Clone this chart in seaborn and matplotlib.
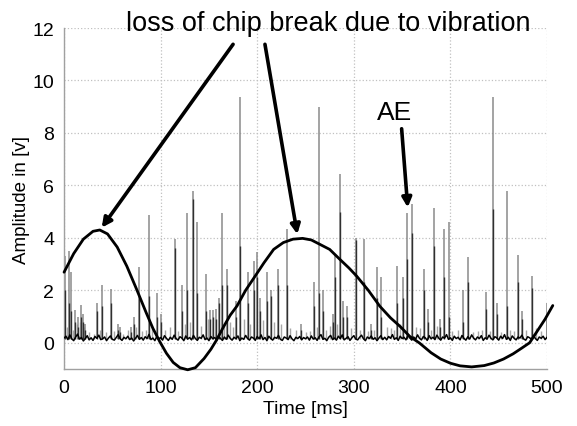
import matplotlib
matplotlib.use("Agg")
import matplotlib.pyplot as plt
import seaborn as sns
import pandas as pd

# ---- data ----
sine_t = [0, 10, 20, 30, 37, 45, 55, 65, 75, 85, 92, 99, 106, 113, 120, 128, 136, 145,
          152, 158, 165, 172, 179, 188, 198, 207, 217, 227, 237, 247, 256, 265, 275, 285,
          295, 303, 315, 327, 338, 348, 358, 368, 380, 390, 400, 410, 422, 435, 445, 455,
          465, 474, 482, 490, 498, 506]
sine_v = [2.69, 3.4, 3.95, 4.25, 4.30, 4.15, 3.65, 2.92, 2.05, 1.15, 0.55, 0.05, -0.4,
          -0.75, -0.95, -1.03, -0.95, -0.6, -0.25, 0.11, 0.6, 1.05, 1.4, 2.0, 2.55, 3.05,
          3.56, 3.82, 3.95, 3.98, 3.92, 3.75, 3.56, 3.2, 2.85, 2.54, 2.0, 1.39, 0.95, 0.62,
          0.24, -0.01, -0.38, -0.62, -0.78, -0.88, -0.92, -0.87, -0.77, -0.62, -0.42, -0.2,
          0.0, 0.45, 0.9, 1.42]

spike_t = [1, 5.5, 7, 11.4, 14.5, 17.3, 19.5, 22, 34.5, 39, 48.7, 56, 58, 69, 72.5, 77.6,
           88, 96, 100, 115, 122.5, 127.6, 133, 138, 147, 151, 154, 157, 160.5, 163.6,
           168.7, 178, 182, 190.8, 196.7, 200, 203, 210.5, 214, 221.5, 230.5, 245, 258.8,
           264, 268, 278, 280.5, 285.7, 289, 293, 302, 310.6, 318, 324.4, 328.6, 345, 351,
           355.4, 360.2, 372.7, 377, 383, 389, 393.4, 398.6, 413.4, 418, 437, 444.4, 448,
           458.3, 469.6, 474, 484, 499.7]
spike_h = [3.3, 3.5, 2.7, 1.26, 1.0, 1.45, 1.1, 0.7, 1.5, 2.2, 2.05, 0.7, 0.6, 0.6, 1.0, 2.9,
           4.87, 1.9, 1.1, 3.95, 2.2, 4.94, 5.8, 4.6, 2.64, 1.25, 1.26, 1.3, 1.7, 4.94,
           2.83, 1.6, 9.38, 2.7, 3.1, 3.45, 1.7, 2.7, 2.0, 2.8, 4.33, 0.7, 2.3,
           9.0, 2.0, 1.1, 3.33, 6.43, 1.6, 1.4, 3.98, 3.95, 0.7, 2.87, 2.5, 2.92, 2.5,
           4.94, 5.29, 2.8, 1.3, 5.13, 0.9, 4.33, 4.6, 2.0, 3.27, 1.95, 9.38, 1.5,
           5.8, 3.33, 1.2, 2.53, 1.5]
spike_dark = [2.0, 1.5, 1.2, 0.8, 0.6, 1.0, 0.8, 0.5, 1.2, 1.4, 1.5, 0.5, 0.4, 0.4, 0.7, 1.7,
              1.8, 1.0, 0.8, 3.6, 1.2, 2.0, 5.5, 1.9, 1.2, 0.9, 1.0, 0.9, 1.5, 2.2,
              2.2, 1.0, 3.7, 1.5, 2.0, 2.5, 1.2, 1.6, 1.8, 2.2, 2.2, 0.5, 1.4,
              1.9, 1.2, 0.8, 2.5, 5.0, 1.0, 1.0, 3.9, 2.3, 0.5, 1.7, 1.0, 1.5, 1.7,
              3.2, 4.2, 2.0, 0.8, 3.7, 0.6, 2.5, 1.0, 0.8, 2.3, 1.3, 5.1, 1.1,
              1.4, 2.3, 0.9, 2.1, 1.0]

# small grey activity just above the baseline
fuzz_t = [3, 9, 13, 16, 21, 26, 31, 37, 43, 52, 61, 66, 75, 81, 85, 91, 105, 110, 118,
          125, 130, 142, 149, 166, 172, 175, 186, 193, 206, 217, 225, 234, 240, 250, 255,
          262, 271, 275, 283, 297, 306, 315, 321, 334, 338, 342, 348, 364, 369, 380, 386,
          402, 408, 423, 429, 433, 441, 452, 462, 466, 478, 489, 494]
fuzz_h = [0.6, 0.5, 0.7, 0.8, 0.6, 0.4, 0.35, 0.5, 0.4, 0.45, 0.35, 0.5, 0.6, 0.45, 0.5,
          0.55, 0.5, 0.6, 0.45, 0.7, 0.8, 0.65, 0.9, 0.7, 0.8, 0.6, 0.9, 0.7, 0.85, 0.8,
          0.7, 0.55, 0.5, 0.4, 0.45, 0.6, 0.5, 0.65, 0.7, 0.55, 0.5, 0.45, 0.5, 0.6, 0.55,
          0.5, 0.7, 0.6, 0.55, 0.5, 0.65, 0.45, 0.5, 0.4, 0.45, 0.5, 0.45, 0.4, 0.5, 0.45,
          0.5, 0.55, 0.45]

base_t = list(range(0, 501, 2))
base_v = [0.18, 0.25, 0.12, 0.30, 0.15, 0.08, 0.22, 0.33, 0.14, 0.20, 0.07, 0.16, 0.27,
          0.11, 0.19, 0.09, 0.24, 0.17, 0.29, 0.12, 0.15, 0.22, 0.08, 0.18, 0.26, 0.13,
          0.10, 0.20, 0.31, 0.16, 0.09, 0.21, 0.15, 0.25, 0.12, 0.18, 0.07, 0.17, 0.28,
          0.13, 0.20, 0.10, 0.23, 0.16, 0.32, 0.12, 0.18, 0.08, 0.24, 0.15, 0.20, 0.10,
          0.27, 0.17, 0.09, 0.21, 0.13, 0.29, 0.16, 0.10, 0.23, 0.18, 0.08, 0.26, 0.14,
          0.20, 0.11, 0.28, 0.16, 0.09, 0.21, 0.17, 0.30, 0.12, 0.18, 0.08, 0.24, 0.15,
          0.20, 0.10, 0.27, 0.16, 0.09, 0.22, 0.13, 0.29, 0.17, 0.10, 0.21, 0.15, 0.26,
          0.08, 0.18, 0.13, 0.28, 0.16, 0.10, 0.22, 0.18, 0.09, 0.24, 0.15, 0.30, 0.12,
          0.20, 0.08, 0.25, 0.16, 0.10, 0.21, 0.17, 0.28, 0.13, 0.09, 0.22, 0.18, 0.12,
          0.27, 0.15, 0.08, 0.21, 0.16, 0.24, 0.11, 0.20, 0.15,
          0.22, 0.10, 0.26, 0.14, 0.19, 0.09, 0.23, 0.31, 0.13, 0.17, 0.08, 0.21, 0.28,
          0.12, 0.18, 0.10, 0.25, 0.16, 0.30, 0.11, 0.17, 0.23, 0.09, 0.19, 0.27, 0.14,
          0.11, 0.21, 0.29, 0.15, 0.08, 0.22, 0.16, 0.26, 0.13, 0.19, 0.08, 0.18, 0.27,
          0.12, 0.21, 0.11, 0.24, 0.17, 0.31, 0.13, 0.19, 0.09, 0.25, 0.16, 0.21, 0.11,
          0.28, 0.18, 0.10, 0.22, 0.14, 0.30, 0.17, 0.11, 0.24, 0.19, 0.09, 0.27, 0.15,
          0.21, 0.12, 0.29, 0.17, 0.10, 0.22, 0.18, 0.31, 0.13, 0.19, 0.09, 0.25, 0.16,
          0.21, 0.11, 0.28, 0.17, 0.10, 0.23, 0.14, 0.30, 0.18, 0.11, 0.22, 0.16, 0.27,
          0.09, 0.19, 0.14, 0.29, 0.17, 0.11, 0.23, 0.19, 0.10, 0.25, 0.16, 0.31, 0.13,
          0.21, 0.09, 0.26, 0.17, 0.11, 0.22, 0.18, 0.29, 0.14, 0.10, 0.23, 0.19, 0.13,
          0.28, 0.16, 0.09, 0.22, 0.17, 0.25, 0.12, 0.21, 0.16]
base_v = base_v[:len(base_t)]

xticks = [0, 100, 200, 300, 400, 500]
yticks = [0, 2, 4, 6, 8, 10, 12]

# ---- plot ----
sns.set_theme(style="white")
plt.rcParams["font.family"] = ["Liberation Sans", "DejaVu Sans"]
plt.rcParams["text.color"] = "black"
plt.rcParams["axes.labelcolor"] = "black"
plt.rcParams["xtick.color"] = "black"
plt.rcParams["ytick.color"] = "black"

fig = plt.figure(figsize=(5.77, 4.27), dpi=100)
ax = fig.add_axes([0.111, 0.1335, 0.837, 0.7985])

ax.vlines(fuzz_t, 0.15, fuzz_h, color="#a8a8a8", lw=1.0, zorder=2)
ax.vlines(spike_t, 0.15, spike_h, color="#8a8a8a", lw=1.1, zorder=2)
ax.vlines(spike_t, 0.15, spike_dark, color="#303030", lw=1.0, zorder=3)

df_base = pd.DataFrame({"t": base_t, "v": base_v})
sns.lineplot(data=df_base, x="t", y="v", ax=ax, color="black", lw=1.1, zorder=4)

df_sine = pd.DataFrame({"t": sine_t, "v": sine_v})
sns.lineplot(data=df_sine, x="t", y="v", ax=ax, color="black", lw=2.0, zorder=5)
ax.lines[-1].set_clip_on(False)

ax.set_xlim(0, 500)
ax.set_ylim(-1, 12)
ax.set_xticks(xticks)
ax.set_yticks(yticks)
ax.tick_params(labelsize=14, length=3, color="#999999", labelcolor="black",
               direction="out", pad=4)
ax.grid(True, linestyle=":", color="#c0c0c0", lw=0.9)
for s in ["top", "right"]:
    ax.spines[s].set_visible(False)
for s in ["left", "bottom"]:
    ax.spines[s].set_color("#a0a0a0")
    ax.spines[s].set_linewidth(1.0)

ax.set_xlabel("Time [ms]", fontsize=14, labelpad=3, color="black")
ax.set_ylabel("Amplitude in [v]", fontsize=13.5, labelpad=2, color="black")

arrow = dict(arrowstyle="-|>", lw=2.6, color="black", mutation_scale=14, shrinkA=0, shrinkB=0)
ax.text(274, 11.93, "loss of chip break due to vibration", fontsize=19.5, ha="center",
        va="baseline", color="black", clip_on=False)
ax.annotate("", xy=(39, 4.39), xytext=(175, 11.38), arrowprops=arrow, annotation_clip=False)
ax.annotate("", xy=(241.5, 4.14), xytext=(208, 11.38), arrowprops=arrow, annotation_clip=False)
ax.text(342.7, 8.81, "AE", fontsize=19, ha="center", va="center", color="black")
ax.annotate("", xy=(355.8, 5.16), xytext=(349.5, 8.16), arrowprops=arrow, annotation_clip=False)

fig.savefig("out.png", dpi=100)
